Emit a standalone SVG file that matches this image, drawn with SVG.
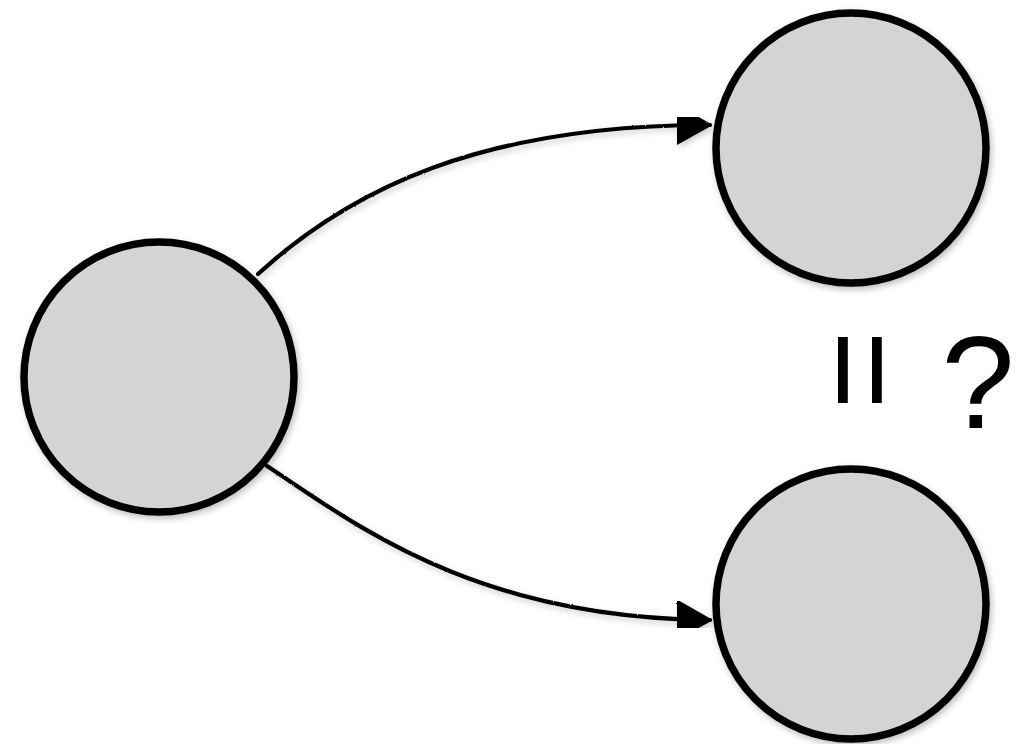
<svg xmlns="http://www.w3.org/2000/svg" width="1030" height="744" viewBox="0 0 1030 744">
  <defs>
    <style>
      .node { fill: #d4d4d4; stroke: #000; stroke-width: 7.5; filter: url(#shadow); }
      .edge { fill: none; stroke: #000; stroke-width: 4.2; stroke-linecap: round; filter: url(#rough); }
      .label { font-family: "Liberation Sans", Arial, sans-serif; fill: #000; }
    </style>
    <filter id="shadow" x="-10%" y="-10%" width="125%" height="125%">
      <feDropShadow dx="2" dy="3" stdDeviation="3" flood-color="#000" flood-opacity="0.25"/>
    </filter>
    <filter id="rough" x="-5%" y="-5%" width="110%" height="110%">
      <feTurbulence type="fractalNoise" baseFrequency="0.9" numOctaves="1" seed="3" result="n"/>
      <feDisplacementMap in="SourceGraphic" in2="n" scale="2" xChannelSelector="R" yChannelSelector="G" result="d"/>
      <feDropShadow dx="2" dy="3" stdDeviation="3" flood-color="#000" flood-opacity="0.2"/>
    </filter>
    <marker id="head" markerUnits="userSpaceOnUse" markerWidth="40" markerHeight="44" refX="33" refY="19" orient="auto">
      <path d="M0,0 L34,19 L0,38 Z" fill="#000" stroke="#000" stroke-width="2" stroke-linejoin="round"/>
    </marker>
  </defs>

  <!-- connectors -->
  <g id="edges">
    <path id="edge-top" class="edge" d="M258,274 C350,190 480,125 710,125" marker-end="url(#head)"/>
    <path id="edge-bottom" class="edge" d="M267,466 C350,520 470,618 710,620" marker-end="url(#head)"/>
  </g>

  <!-- nodes -->
  <g id="node-source">
    <circle class="node" cx="159" cy="377" r="135"/>
  </g>
  <g id="node-top">
    <circle class="node" cx="851" cy="148" r="135"/>
  </g>
  <g id="node-bottom">
    <circle class="node" cx="851" cy="604" r="135"/>
  </g>

  <!-- question label: an equals sign turned on its side, then a question mark -->
  <g id="label-equal">
    <text class="label" font-size="136" text-anchor="middle" transform="translate(865,370) rotate(90)" x="0" y="50">=</text>
    <text class="label" font-size="132" text-anchor="middle" x="978" y="428">?</text>
  </g>
</svg>
